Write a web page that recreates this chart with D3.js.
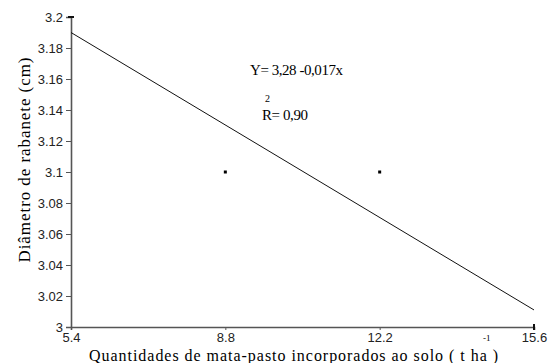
<!DOCTYPE html>
<html>
<head>
<meta charset="utf-8">
<script src="https://cdn.jsdelivr.net/npm/d3@7"></script>
<style>
  body { margin: 0; background: #fff; }
  svg { display: block; }
</style>
</head>
<body>
<svg width="549" height="363"></svg>
<script>
var width = 549;
var height = 363;

// data
var xTicks = [5.4, 8.8, 12.2, 15.6];
var yTicks = [3, 3.02, 3.04, 3.06, 3.08, 3.1, 3.12, 3.14, 3.16, 3.18, 3.2];
var obsX = [8.8, 12.2];
var obsY = [3.1, 3.1];
var fitX = [5.4, 15.6];
var fitY = [3.19, 3.011];

var xScale = d3.scaleLinear().domain([5.4, 15.6]).range([71, 534]);
var yScale = d3.scaleLinear().domain([3, 3.2]).range([327, 17]);

var svg = d3.select('svg');
var axisColor = '#555';

// y axis
var yAxis = svg.append('g')
  .attr('transform', 'translate(' + xScale(5.4) + ',0)')
  .call(d3.axisLeft(yScale).tickValues(yTicks).tickSize(5).tickPadding(3)
    .tickFormat(function (d) { return d3.format('~g')(d); }));

// x axis
var xAxis = svg.append('g')
  .attr('transform', 'translate(0,' + yScale(3) + ')')
  .call(d3.axisBottom(xScale).tickValues(xTicks).tickSize(3).tickPadding(3)
    .tickFormat(function (d) { return d3.format('.1f')(d); }));

[xAxis, yAxis].forEach(function (ax) {
  ax.select('.domain').attr('stroke', axisColor).attr('stroke-width', 1.6);
  ax.selectAll('.tick line').attr('stroke', axisColor);
  ax.selectAll('.tick text')
    .attr('fill', '#222')
    .style('font-family', '"Liberation Sans", Arial, sans-serif')
    .style('font-size', '13px');
});

// end markers at top of y axis and right of x axis
svg.append('line')
  .attr('x1', xScale(5.4) - 3).attr('x2', xScale(5.4) + 3)
  .attr('y1', yScale(3.2)).attr('y2', yScale(3.2))
  .attr('stroke', '#111').attr('stroke-width', 2);
svg.append('line')
  .attr('x1', xScale(15.6)).attr('x2', xScale(15.6))
  .attr('y1', yScale(3) - 3).attr('y2', yScale(3) + 3)
  .attr('stroke', '#111').attr('stroke-width', 2);

// fitted line
var line = d3.line()
  .x(function (d) { return xScale(d[0]); })
  .y(function (d) { return yScale(d[1]); });
svg.append('path')
  .datum(d3.zip(fitX, fitY))
  .attr('d', line)
  .attr('fill', 'none')
  .attr('stroke', '#111')
  .attr('stroke-width', 1);

// observed points
svg.selectAll('rect.pt')
  .data(d3.zip(obsX, obsY))
  .enter()
  .append('rect')
  .attr('class', 'pt')
  .attr('x', function (d) { return xScale(d[0]) - 1.5; })
  .attr('y', function (d) { return yScale(d[1]) - 1.5; })
  .attr('width', 3)
  .attr('height', 3)
  .attr('fill', '#000');

var serif = '"Liberation Serif", "Times New Roman", serif';

// equation
svg.append('text')
  .attr('x', 250).attr('y', 75)
  .attr('textLength', 93)
  .style('font-family', serif).style('font-size', '15px')
  .text('Y= 3,28 -0,017x');
svg.append('text')
  .attr('x', 265).attr('y', 102)
  .style('font-family', serif).style('font-size', '10px')
  .text('2');
svg.append('text')
  .attr('x', 262).attr('y', 120)
  .attr('textLength', 46)
  .style('font-family', serif).style('font-size', '15px')
  .text('R= 0,90');

// y label
svg.append('text')
  .attr('transform', 'rotate(-90)')
  .attr('x', -160)
  .attr('y', 30)
  .attr('textLength', 205)
  .style('text-anchor', 'middle')
  .style('font-family', serif).style('font-size', '17px')
  .text('Diâmetro de rabanete (cm)');

// x label
svg.append('text')
  .attr('x', 89)
  .attr('y', 361)
  .attr('textLength', 409)
  .style('font-family', serif).style('font-size', '16px')
  .text('Quantidades de mata-pasto incorporados ao solo ( t ha )');
svg.append('text')
  .attr('x', 483)
  .attr('y', 341)
  .style('font-family', serif).style('font-size', '9px')
  .text('-1');
</script>
</body>
</html>
